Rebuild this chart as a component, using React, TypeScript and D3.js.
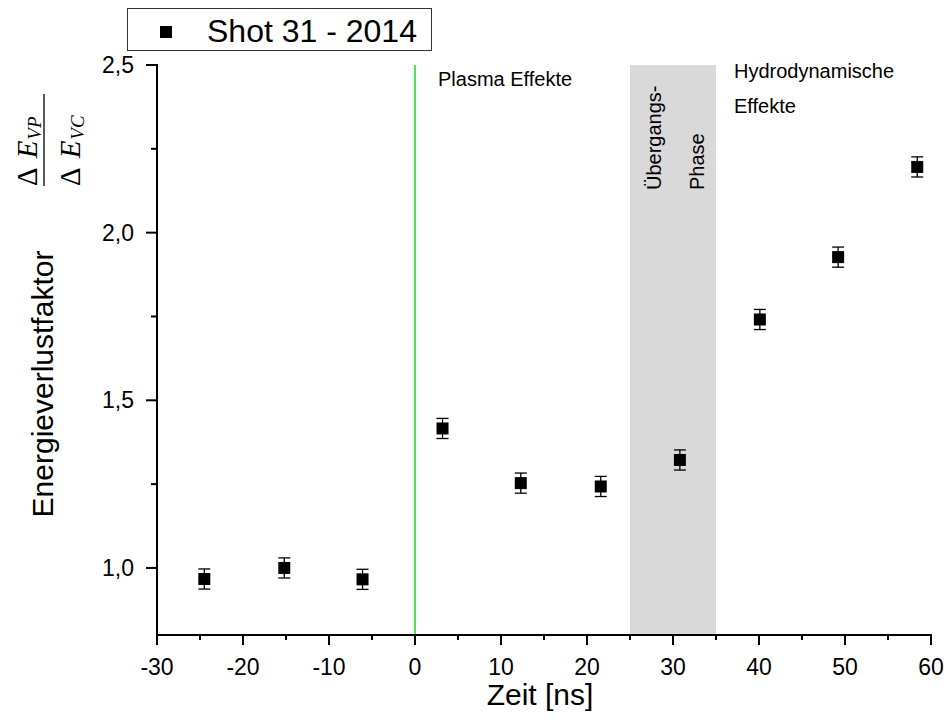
import React from "react";
import * as d3 from "d3";

// Measured energy-loss factor per delay time (shot 31, 2014)
const timeNs = [-24.5, -15.2, -6.1, 3.2, 12.3, 21.6, 30.8, 40.1, 49.2, 58.4];
const lossFactor = [0.967, 1.0, 0.966, 1.416, 1.253, 1.243, 1.322, 1.741, 1.927, 2.196];
const lossError = [0.03, 0.03, 0.03, 0.03, 0.03, 0.03, 0.03, 0.03, 0.03, 0.03];

const xMajorTicks = [-30, -20, -10, 0, 10, 20, 30, 40, 50, 60];
const xMinorTicks = [-25, -15, -5, 5, 15, 25, 35, 45, 55];
const yMajorTicks = [1.0, 1.5, 2.0, 2.5];
const yMinorTicks = [1.25, 1.75, 2.25];

const transitionPhase = [25, 35];
const plasmaStart = 0;

const legendLabel = "Shot 31 - 2014";
const xTitle = "Zeit [ns]";
const yTitle = "Energieverlustfaktor";

const W = 946;
const H = 718;
const left = 157;
const right = 931;
const top = 65;
const bottom = 635;

const fmt = (v: number) => d3.format(".1f")(v).replace(".", ",");

export default function App() {
  const x = d3.scaleLinear().domain([-30, 60]).range([left, right]);
  const y = d3.scaleLinear().domain([0.8, 2.5]).range([bottom, top]);
  const font = "'Liberation Sans', Arial, sans-serif";
  const serif = "'Liberation Serif', 'Times New Roman', serif";
  const m = 12;
  const cap = 6;

  return (
    <div style={{ position: "fixed", left: 0, top: 0 }}>
      <svg width={W} height={H} style={{ display: "block", background: "#fff" }} fontFamily={font}>
        {/* transition phase band */}
        <rect
          x={x(transitionPhase[0])}
          y={top}
          width={x(transitionPhase[1]) - x(transitionPhase[0])}
          height={bottom - top}
          fill="#d9d9d9"
        />
        {/* plasma onset marker */}
        <line x1={x(plasmaStart)} x2={x(plasmaStart)} y1={top} y2={bottom} stroke="#22e022" strokeWidth={1.6} />

        {/* region labels */}
        <text x={438} y={86} fontSize={20}>Plasma Effekte</text>
        <text x={734} y={78} fontSize={20}>Hydrodynamische</text>
        <text x={734} y={113} fontSize={20}>Effekte</text>
        <text transform="translate(661,190) rotate(-90)" fontSize={20}>Übergangs-</text>
        <text transform="translate(704,190) rotate(-90)" fontSize={20}>Phase</text>

        {/* axes */}
        <line x1={left} x2={left} y1={top - 1} y2={bottom + 1} stroke="#000" strokeWidth={2} />
        <line x1={left - 1} x2={right + 1} y1={bottom} y2={bottom} stroke="#000" strokeWidth={2} />

        {xMajorTicks.map((t) => (
          <g key={"xm" + t}>
            <line x1={x(t)} x2={x(t)} y1={bottom} y2={bottom + 10} stroke="#000" strokeWidth={2} />
            <text x={x(t)} y={675} fontSize={23} textAnchor="middle">{t}</text>
          </g>
        ))}
        {xMinorTicks.map((t) => (
          <line key={"xn" + t} x1={x(t)} x2={x(t)} y1={bottom} y2={bottom + 5} stroke="#000" strokeWidth={2} />
        ))}
        {yMajorTicks.map((t) => (
          <g key={"ym" + t}>
            <line x1={left - 11} x2={left} y1={y(t)} y2={y(t)} stroke="#000" strokeWidth={2} />
            <text x={left - 23} y={y(t)} fontSize={23} textAnchor="end" dominantBaseline="central">{fmt(t)}</text>
          </g>
        ))}
        {yMinorTicks.map((t) => (
          <line key={"yn" + t} x1={left - 6} x2={left} y1={y(t)} y2={y(t)} stroke="#000" strokeWidth={2} />
        ))}

        {/* axis titles */}
        <text x={(left + right) / 2 - 4} y={705} fontSize={30} textAnchor="middle">{xTitle}</text>
        <text transform="translate(53,384) rotate(-90)" fontSize={30} textAnchor="middle">{yTitle}</text>

        {/* quantity as a fraction */}
        <g fontFamily={serif} fontStyle="italic">
          <text transform="translate(37,186) rotate(-90)" fontSize={29}>
            <tspan fontStyle="normal">Δ</tspan>
            <tspan dx={9}>E</tspan>
            <tspan fontSize={19} dy={4} dx={1}>VP</tspan>
          </text>
          <line x1={44} x2={44} y1={94} y2={186} stroke="#000" strokeWidth={1.3} />
          <text transform="translate(80,186) rotate(-90)" fontSize={29}>
            <tspan fontStyle="normal">Δ</tspan>
            <tspan dx={9}>E</tspan>
            <tspan fontSize={19} dy={4} dx={1}>VC</tspan>
          </text>
        </g>

        {/* error bars and markers */}
        {timeNs.map((t, i) => {
          const cx = x(t);
          const lo = y(lossFactor[i] - lossError[i]);
          const hi = y(lossFactor[i] + lossError[i]);
          return (
            <g key={"p" + i}>
              <line x1={cx} x2={cx} y1={lo} y2={hi} stroke="#000" strokeWidth={1.3} />
              <line x1={cx - cap} x2={cx + cap} y1={lo} y2={lo} stroke="#000" strokeWidth={1.3} />
              <line x1={cx - cap} x2={cx + cap} y1={hi} y2={hi} stroke="#000" strokeWidth={1.3} />
              <rect x={cx - m / 2} y={y(lossFactor[i]) - m / 2} width={m} height={m} fill="#000" />
            </g>
          );
        })}

        {/* legend */}
        <rect x={127.5} y={8.5} width={304} height={42} fill="#fff" stroke="#333" strokeWidth={1} />
        <rect x={160} y={26} width={12} height={12} fill="#000" />
        <text x={207} y={42} fontSize={32}>{legendLabel}</text>
      </svg>
    </div>
  );
}
